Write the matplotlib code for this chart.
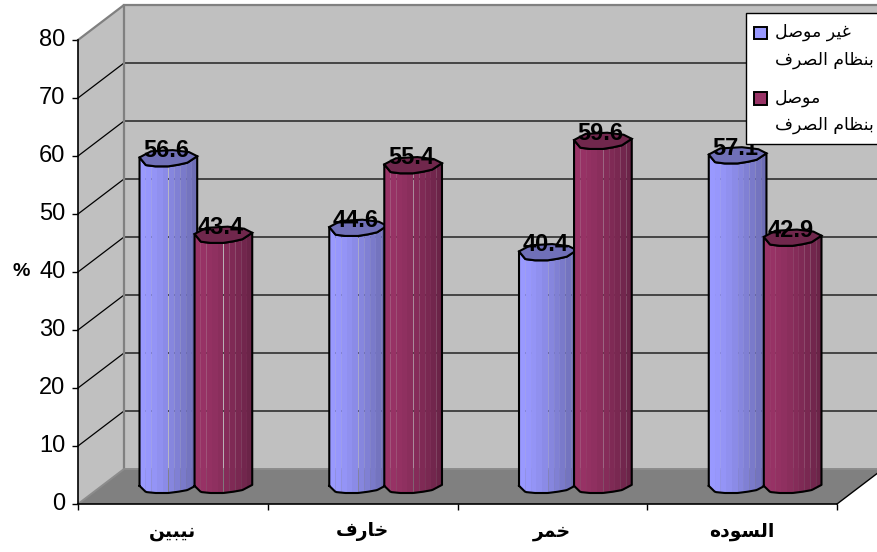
import matplotlib
matplotlib.use("Agg")
import matplotlib.pyplot as plt
from matplotlib.patches import Patch
from matplotlib.transforms import ScaledTranslation
import numpy as np

categories = ["نيبين", "خارف", "خمر", "السوده"]
not_connected = [56.6, 44.6, 40.4, 57.1]
connected = [43.4, 55.4, 59.6, 42.9]
legend_labels = ["غير موصل\nبنظام الصرف", "موصل\nبنظام الصرف"]
y_ticks = [0, 10, 20, 30, 40, 50, 60, 70, 80]
y_label = "%"

# isolated, final, initial, medial
FORMS = {
    "ا": (0xFE8D, 0xFE8E), "ب": (0xFE8F, 0xFE90, 0xFE91, 0xFE92),
    "خ": (0xFEA5, 0xFEA6, 0xFEA7, 0xFEA8), "د": (0xFEA9, 0xFEAA),
    "ر": (0xFEAD, 0xFEAE), "س": (0xFEB1, 0xFEB2, 0xFEB3, 0xFEB4),
    "ص": (0xFEB9, 0xFEBA, 0xFEBB, 0xFEBC), "ظ": (0xFEC5, 0xFEC6, 0xFEC7, 0xFEC8),
    "غ": (0xFECD, 0xFECE, 0xFECF, 0xFED0), "ف": (0xFED1, 0xFED2, 0xFED3, 0xFED4),
    "ل": (0xFEDD, 0xFEDE, 0xFEDF, 0xFEE0), "م": (0xFEE1, 0xFEE2, 0xFEE3, 0xFEE4),
    "ن": (0xFEE5, 0xFEE6, 0xFEE7, 0xFEE8), "ه": (0xFEE9, 0xFEEA, 0xFEEB, 0xFEEC),
    "و": (0xFEED, 0xFEEE), "ي": (0xFEF1, 0xFEF2, 0xFEF3, 0xFEF4),
}


def shape_word(word):
    # matplotlib has no arabic shaping, so pick the joined forms by hand
    out = []
    for i, c in enumerate(word):
        f = FORMS[c]
        before = i > 0 and len(FORMS[word[i - 1]]) == 4
        after = i < len(word) - 1 and len(f) == 4
        if before and after:
            out.append(f[3])
        elif before:
            out.append(f[1])
        elif after:
            out.append(f[2])
        else:
            out.append(f[0])
    return "".join(chr(c) for c in reversed(out))


def shape(text):
    return "\n".join(" ".join(shape_word(w) for w in reversed(line.split()))
                     for line in text.split("\n"))


def mix(a, b, t):
    a, b = np.array(matplotlib.colors.to_rgb(a)), np.array(matplotlib.colors.to_rgb(b))
    return tuple(a + (b - a) * t)


fig = plt.figure(figsize=(8.77, 5.52), dpi=100)
ax = fig.add_axes([78 / 877, 48 / 552, 759 / 877, 464 / 552])
ax.set_xlim(0, 4)
ax.set_ylim(0, 80)
ax.patch.set_visible(False)

# depth of the fake 3d box, in data units
DX = 46 / 189.75
DY = 35 / 5.8
BAR_W = 0.152
BAR_OFF = 0.145
CAP_H = 1.4

# walls and floor
ax.fill([0, DX, DX, 0], [0, DY, 80 + DY, 80], color="#c0c0c0", clip_on=False, zorder=1, lw=0)
ax.fill([DX, 4 + DX, 4 + DX, DX], [DY, DY, 80 + DY, 80 + DY], color="#c0c0c0", clip_on=False, zorder=1, lw=0)
ax.fill([0, 4, 4 + DX, DX], [0, 0, DY, DY], color="#808080", clip_on=False, zorder=1, lw=0)

for v in y_ticks[1:-1]:
    ax.plot([0, DX, 4 + DX], [v, v + DY, v + DY], color="black", lw=0.9, clip_on=False, zorder=2)
ax.plot([0, DX, DX], [80, 80 + DY, DY], color="#808080", lw=1.6, clip_on=False, zorder=2)
ax.plot([DX, 4 + DX], [80 + DY, 80 + DY], color="#808080", lw=1.6, clip_on=False, zorder=2)
ax.plot([0, DX, 4 + DX], [0, DY, DY], color="#8c8c8c", lw=1.4, clip_on=False, zorder=2)
ax.plot([4, 4 + DX], [0, DY], color="black", lw=1.0, clip_on=False, zorder=3)

# rough outline of the cylinder end, like the low-res polygon of the original
FRONT_U = np.array([-1, -0.78, -0.45, 0.0, 0.35, 0.66, 1])
FRONT_V = np.array([0.1, -0.85, -1, -1, -0.8, -0.55, 0.25])
BACK_U = np.array([1, 0.72, 0.15, -0.6, -1])
BACK_V = np.array([0.25, 0.75, 1, 0.85, 0.1])
BANDS = np.linspace(-1, 1, 11)


def cylinder(xc, value, light, dark, cap, z):
    yb = DY / 2
    yt = yb + value
    for k in range(len(BANDS) - 1):
        u = np.linspace(BANDS[k], BANDS[k + 1], 4)
        v = np.interp(u, FRONT_U, FRONT_V) * CAP_H
        t = (k / (len(BANDS) - 2)) ** 1.4
        ax.fill_between(xc + u * BAR_W, yb + v * 0.8, yt + v, color=mix(light, dark, t),
                        lw=0, antialiased=False, clip_on=False, zorder=z)
    u = np.linspace(-1, 1, 40)
    v = np.interp(u, FRONT_U, FRONT_V) * CAP_H
    ax.plot(np.r_[xc + u * BAR_W, xc + u[::-1] * BAR_W, xc + u[0] * BAR_W],
            np.r_[yb + v * 0.8, yt + v[::-1], yb + v[0] * 0.8], color="black", lw=1.5, clip_on=False,
            zorder=z + 0.1)
    cu = np.r_[FRONT_U, BACK_U[1:]]
    cv = np.r_[FRONT_V, BACK_V[1:]] * CAP_H
    ax.fill(xc + cu * BAR_W, yt + cv, facecolor=cap, edgecolor="black", lw=1.5, clip_on=False, zorder=z + 0.2)
    ax.text(xc - 0.012, yt + 1.25, f"{value:.1f}", ha="center", va="center", fontsize=17, fontweight="bold",
            family="Liberation Sans", color="black", clip_on=False, zorder=z + 0.3)


for i in range(len(categories)):
    xc = i + 0.5 + DX / 2
    cylinder(xc - BAR_OFF, not_connected[i], "#9999ff", "#6d6db4", "#7070b8", 4 + 2 * i)
    cylinder(xc + BAR_OFF, connected[i], "#993366", "#6b2448", "#70274c", 5 + 2 * i)

# axes
for s in ("top", "right"):
    ax.spines[s].set_visible(False)
for s in ("left", "bottom"):
    ax.spines[s].set_linewidth(1.2)
    ax.spines[s].set_zorder(3)
ax.set_yticks(y_ticks)
ax.tick_params(axis="y", length=4.5, width=1, pad=4.5, labelsize=17)
lift = ScaledTranslation(0, 2 / 72, fig.dpi_scale_trans)
for t in ax.get_yticklabels():
    t.set_family("Liberation Sans")
    t.set_transform(t.get_transform() + lift)
ax.set_xticks(range(5))
ax.set_xticklabels([])
ax.tick_params(axis="x", length=4.5, width=1)
ax.set_xticks(np.arange(len(categories)) + 0.5, minor=True)
ax.set_xticklabels([shape(c) for c in categories], minor=True, fontsize=13.5, fontweight="bold",
                   family="DejaVu Sans")
ax.tick_params(axis="x", which="minor", length=0, pad=13)
ax.set_ylabel(y_label, rotation=0, fontsize=14, fontweight="bold", family="Liberation Sans", va="center")
ax.yaxis.set_label_coords(-0.0755, 0.5, transform=ax.transAxes)

# legend, runs off the right edge of the figure
handles = [Patch(facecolor="#9999ff", edgecolor="black", lw=1.4),
           Patch(facecolor="#993366", edgecolor="black", lw=1.4)]
leg = ax.legend(handles, [shape(t) for t in legend_labels], loc="upper left",
                bbox_to_anchor=(746 / 877, 1 - 13 / 552), bbox_transform=fig.transFigure,
                fancybox=False, framealpha=1, edgecolor="black", facecolor="white",
                prop={"family": "DejaVu Sans", "size": 12.5}, borderaxespad=0, borderpad=0.6,
                handlelength=0.75, handleheight=0.75, handletextpad=0.3, labelspacing=1.15)
leg.set_zorder(30)
leg.get_frame().set_linewidth(1.0)
for txt, p in zip(leg.get_texts(), leg.get_patches()):
    txt.set_multialignment("left")
    txt.set_linespacing(1.64)
    p.set_y(p.get_y() + 10)
    p.set_x(p.get_x() - 2)

fig.savefig("out.png", dpi=100)
